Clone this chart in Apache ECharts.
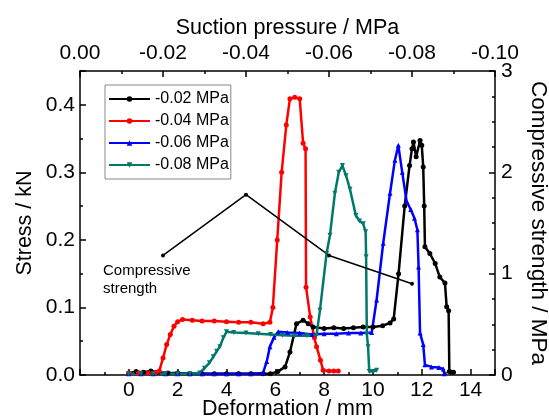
<!DOCTYPE html>
<html>
<head>
<meta charset="utf-8">
<script src="https://cdn.jsdelivr.net/npm/echarts@6/dist/echarts.min.js"></script>
<style>
  html, body { margin: 0; padding: 0; background: #fff; }
  #main { width: 549px; height: 419px; }
</style>
</head>
<body>
<div id="main"></div>
<script>
// -0.02 MPa
var def02 = [0, 0.3, 0.6, 0.9, 1.2, 1.6, 2.0, 2.5, 3.0, 3.5, 4.0, 4.5, 5.0, 5.5, 5.8, 6.1, 6.4, 6.6, 6.87, 7.14, 7.35, 7.55, 8.0, 8.4, 8.8, 9.2, 9.6, 10.0, 10.4, 10.7, 10.85, 11.05, 11.3, 11.5, 11.6, 11.66, 11.77, 11.93, 12.0, 12.06, 12.1, 12.13, 12.33, 12.55, 12.74, 12.95, 13.02, 13.1, 13.13, 13.2, 13.3];
var stress02 = [0.003, 0.005, 0.004, 0.006, 0.004, 0.003, 0.003, 0.002, 0.002, 0.002, 0.002, 0.002, 0.002, 0.002, 0.002, 0.005, 0.012, 0.034, 0.076, 0.081, 0.076, 0.071, 0.069, 0.070, 0.069, 0.070, 0.071, 0.071, 0.073, 0.077, 0.083, 0.15, 0.25, 0.31, 0.335, 0.345, 0.323, 0.347, 0.34, 0.308, 0.25, 0.19, 0.18, 0.165, 0.145, 0.136, 0.101, 0.095, 0.005, 0.004, 0.004];

// -0.04 MPa
var def04 = [0, 0.4, 0.8, 1.1, 1.25, 1.4, 1.55, 1.7, 1.85, 2.0, 2.2, 2.6, 3.0, 3.5, 4.0, 4.5, 5.0, 5.5, 5.78, 5.9, 6.08, 6.26, 6.45, 6.6, 6.8, 7.0, 7.14, 7.24, 7.26, 7.43, 7.6, 7.69, 7.85, 7.96, 8.2, 8.4, 8.58];
var stress04 = [0.003, 0.003, 0.003, 0.004, 0.006, 0.025, 0.045, 0.06, 0.072, 0.079, 0.082, 0.081, 0.080, 0.080, 0.079, 0.078, 0.078, 0.076, 0.078, 0.10, 0.20, 0.30, 0.37, 0.409, 0.411, 0.409, 0.343, 0.335, 0.13, 0.086, 0.055, 0.042, 0.022, 0.007, 0.006, 0.006, 0.006];

// -0.06 MPa
var def06 = [0, 0.5, 1.0, 1.5, 2.0, 2.5, 3.0, 3.5, 4.0, 4.5, 5.0, 5.5, 5.65, 5.78, 5.95, 6.12, 6.5, 7.0, 7.5, 8.0, 8.5, 9.0, 9.5, 9.95, 10.15, 10.42, 10.7, 10.9, 11.04, 11.2, 11.38, 11.55, 11.7, 11.82, 11.87, 11.93, 12.06, 12.13, 12.4, 12.7, 12.88, 12.92];
var stress06 = [0.002, 0.002, 0.002, 0.002, 0.002, 0.002, 0.002, 0.002, 0.002, 0.002, 0.002, 0.003, 0.02, 0.042, 0.056, 0.064, 0.063, 0.062, 0.060, 0.061, 0.061, 0.062, 0.062, 0.063, 0.111, 0.195, 0.269, 0.318, 0.34, 0.30, 0.257, 0.245, 0.232, 0.215, 0.16, 0.062, 0.045, 0.015, 0.012, 0.011, 0.009, 0.002];

// -0.08 MPa
var def08 = [0, 0.5, 1.0, 1.5, 2.0, 2.5, 2.9, 3.1, 3.3, 3.46, 3.6, 3.73, 3.87, 4.0, 4.3, 4.8, 5.3, 5.8, 6.3, 6.8, 7.3, 7.69, 7.83, 8.1, 8.24, 8.44, 8.6, 8.75, 8.9, 9.06, 9.3, 9.45, 9.6, 9.7, 9.72, 9.75, 9.8, 9.85, 10.0, 10.15];
var stress08 = [0.002, 0.002, 0.002, 0.002, 0.002, 0.002, 0.003, 0.010, 0.018, 0.027, 0.035, 0.042, 0.055, 0.064, 0.063, 0.062, 0.061, 0.060, 0.059, 0.058, 0.058, 0.059, 0.096, 0.18, 0.207, 0.269, 0.30, 0.310, 0.295, 0.275, 0.236, 0.228, 0.224, 0.212, 0.175, 0.06, 0.042, 0.005, 0.005, 0.007];

// compressive strength vs suction
var suction = [-0.02, -0.04, -0.06, -0.08];
var strength = [1.18, 1.78, 1.18, 0.90];

var seriesNames = ['-0.02 MPa', '-0.04 MPa', '-0.06 MPa', '-0.08 MPa'];

function zip(xs, ys) {
    var out = [];
    for (var i = 0; i < xs.length; i++) out.push([xs[i], ys[i]]);
    return out;
}

var font = '"Liberation Sans", Arial, sans-serif';

function curve(name, data, color, symbol, rotate) {
    return {
        name: name,
        type: 'line',
        xAxisIndex: 0,
        yAxisIndex: 0,
        data: data,
        symbol: symbol,
        symbolSize: 5,
        symbolRotate: rotate || 0,
        showAllSymbol: true,
        lineStyle: { color: color, width: 2.5 },
        itemStyle: { color: color },
        animation: false
    };
}

var axisLine = { show: true, onZero: false, lineStyle: { color: '#000', width: 1.5 } };
var tick = { inside: true, length: 6, lineStyle: { color: '#000', width: 1.5 } };

var chart = echarts.init(document.getElementById('main'));
chart.setOption({
    backgroundColor: '#fff',
    textStyle: { fontFamily: font },
    grid: { left: 80, right: 54, top: 71, bottom: 44, containLabel: false, outerBoundsMode: 'none' },
    legend: {
        data: seriesNames,
        orient: 'vertical',
        left: 105,
        top: 85,
        itemWidth: 41,
        itemHeight: 7,
        itemGap: 6,
        padding: [6, 2, 6, 3],
        borderColor: '#888',
        borderWidth: 1,
        textStyle: { fontSize: 16, color: '#000', fontFamily: font }
    },
    xAxis: [{
        type: 'value',
        position: 'bottom',
        min: -2,
        max: 15,
        interval: 2,
        name: 'Deformation / mm',
        nameLocation: 'middle',
        nameGap: 23,
        nameMoveOverlap: false,
        nameTextStyle: { fontSize: 21.5, color: '#000' },
        axisLine: axisLine,
        axisTick: tick,
        minorTick: { show: true, splitNumber: 2, length: 3, lineStyle: { color: '#000', width: 1.5 } },
        axisLabel: {
            fontSize: 21, color: '#000', margin: 5,
            formatter: function (v) { return (v < 0 || v > 14) ? '' : String(v); }
        },
        splitLine: { show: false }
    }, {
        type: 'value',
        position: 'top',
        min: 0,
        max: 0.1,
        interval: 0.02,
        name: 'Suction pressure / MPa',
        nameLocation: 'middle',
        nameGap: 32,
        nameMoveOverlap: false,
        nameTextStyle: { fontSize: 21.5, color: '#000' },
        axisLine: axisLine,
        axisTick: tick,
        minorTick: { show: true, splitNumber: 2, length: 3, lineStyle: { color: '#000', width: 1.5 } },
        axisLabel: {
            fontSize: 21, color: '#000', margin: 7,
            formatter: function (v) { return v === 0 ? '0.00' : '-' + v.toFixed(2); }
        },
        splitLine: { show: false }
    }],
    yAxis: [{
        type: 'value',
        position: 'left',
        min: 0,
        max: 0.45,
        interval: 0.1,
        name: 'Stress / kN',
        nameLocation: 'middle',
        nameGap: 44,
        nameMoveOverlap: false,
        nameTextStyle: { fontSize: 21.5, color: '#000' },
        axisLine: axisLine,
        axisTick: tick,
        minorTick: { show: true, splitNumber: 2, length: 3, lineStyle: { color: '#000', width: 1.5 } },
        axisLabel: {
            fontSize: 21, color: '#000', margin: 5,
            formatter: function (v) {
                var k = v * 10;
                return Math.abs(k - Math.round(k)) < 1e-6 ? v.toFixed(1) : '';
            }
        },
        splitLine: { show: false }
    }, {
        type: 'value',
        position: 'right',
        min: 0,
        max: 3,
        interval: 1,
        name: 'Compressive strength / MPa',
        nameLocation: 'middle',
        nameRotate: -90,
        nameGap: 32,
        nameMoveOverlap: false,
        nameTextStyle: { fontSize: 22.5, color: '#000' },
        axisLine: axisLine,
        axisTick: tick,
        minorTick: { show: true, splitNumber: 4, length: 3, lineStyle: { color: '#000', width: 1.5 } },
        axisLabel: { fontSize: 21, color: '#000', margin: 6 },
        splitLine: { show: false }
    }],
    graphic: [{
        type: 'text',
        left: 103,
        top: 262,
        style: {
            text: 'Compressive\nstrength',
            font: '15px ' + font,
            lineHeight: 18,
            fill: '#000'
        }
    }],
    series: [
        curve(seriesNames[0], zip(def02, stress02), '#000000', 'circle'),
        curve(seriesNames[1], zip(def04, stress04), '#ff0000', 'circle'),
        curve(seriesNames[2], zip(def06, stress06), '#0000ff', 'triangle'),
        curve(seriesNames[3], zip(def08, stress08), '#00786a', 'triangle', 180),
        {
            name: 'Compressive strength',
            type: 'line',
            xAxisIndex: 1,
            yAxisIndex: 1,
            data: zip(suction.map(function (s) { return -s; }), strength),
            symbol: 'circle',
            symbolSize: 4,
            lineStyle: { color: '#000', width: 1.5 },
            itemStyle: { color: '#000' },
            animation: false
        }
    ]
});
</script>
</body>
</html>
